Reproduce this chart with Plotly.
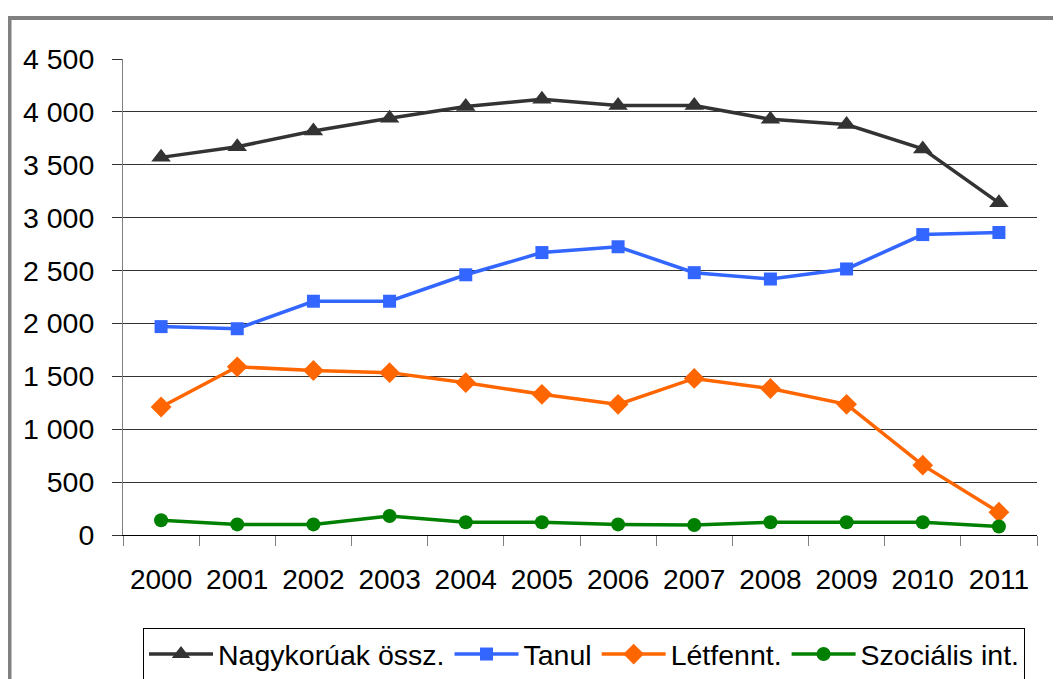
import plotly.graph_objects as go

years = ["2000", "2001", "2002", "2003", "2004", "2005", "2006", "2007", "2008", "2009", "2010", "2011"]
nagykoruak = [3570, 3670, 3820, 3940, 4050, 4120, 4060, 4060, 3930, 3880, 3650, 3140]
tanul = [1970, 1950, 2210, 2210, 2460, 2670, 2725, 2480, 2420, 2515, 2840, 2860]
letfennt = [1210, 1590, 1555, 1535, 1440, 1330, 1235, 1480, 1385, 1235, 660, 215]
szocialis = [140, 100, 100, 180, 120, 120, 100, 95, 120, 120, 120, 80]

y_tick_vals = [0, 500, 1000, 1500, 2000, 2500, 3000, 3500, 4000, 4500]
y_tick_text = ["0", "500", "1 000", "1 500", "2 000", "2 500", "3 000", "3 500", "4 000", "4 500"]

series = [
    ("Nagykorúak össz.", nagykoruak, "#333333", "triangle-up", 17),
    ("Tanul", tanul, "#3366FF", "square", 13),
    ("Létfennt.", letfennt, "#FF6600", "diamond", 16),
    ("Szociális int.", szocialis, "#008000", "circle", 14),
]

fig = go.Figure()
for name, vals, color, sym, size in series:
    fig.add_trace(go.Scatter(
        x=years, y=vals, name=name, mode="lines+markers",
        line=dict(color=color, width=3.5),
        marker=dict(symbol=sym, size=size, color=color),
    ))

FONT = "Liberation Sans, Arial, sans-serif"
OFF = 8  # default page body margin
W, H = 1061 - OFF, 679 - OFF
L, R, T, B = 123 - OFF, 24, 59 - OFF, 144
pw, ph = W - L - R, H - T - B

def px_x(x):
    return (x - OFF - L) / pw

def px_y(y):
    return (H - B - (y - OFF)) / ph

fig.update_layout(
    width=W, height=H,
    margin=dict(l=L, r=R, t=T, b=B, autoexpand=False),
    paper_bgcolor="white", plot_bgcolor="white",
    font=dict(family=FONT, size=28, color="black"),
    showlegend=True,
    legend=dict(
        orientation="h", x=px_x(143), y=px_y(628), xanchor="left", yanchor="top",
        bordercolor="black", borderwidth=1, font=dict(size=28.5),
        itemwidth=64, tracegroupgap=0, bgcolor="white",
    ),
    xaxis=dict(
        type="category", range=[-0.5, 11.5], showgrid=False, automargin=False,
        showline=True, linecolor="black", linewidth=1,
        ticks="outside", tickson="boundaries", ticklen=10, tickcolor="#808080",
        tickfont=dict(size=28), ticklabelstandoff=19, zeroline=False,
    ),
    yaxis=dict(
        range=[0, 4500], tickvals=y_tick_vals, ticktext=y_tick_text, automargin=False,
        showgrid=True, gridcolor="#333333", gridwidth=1,
        showline=True, linecolor="#808080", linewidth=1,
        ticks="outside", ticklen=10, tickcolor="#333333",
        tickfont=dict(size=28.5), ticklabelstandoff=12, zeroline=False,
    ),
    shapes=[dict(
        type="rect", xref="paper", yref="paper",
        x0=px_x(9.5), x1=px_x(1100), y0=px_y(18), y1=px_y(720),
        line=dict(color="#808080", width=4), fillcolor="rgba(0,0,0,0)", layer="below",
    )],
)

fig.write_html("out.html")
